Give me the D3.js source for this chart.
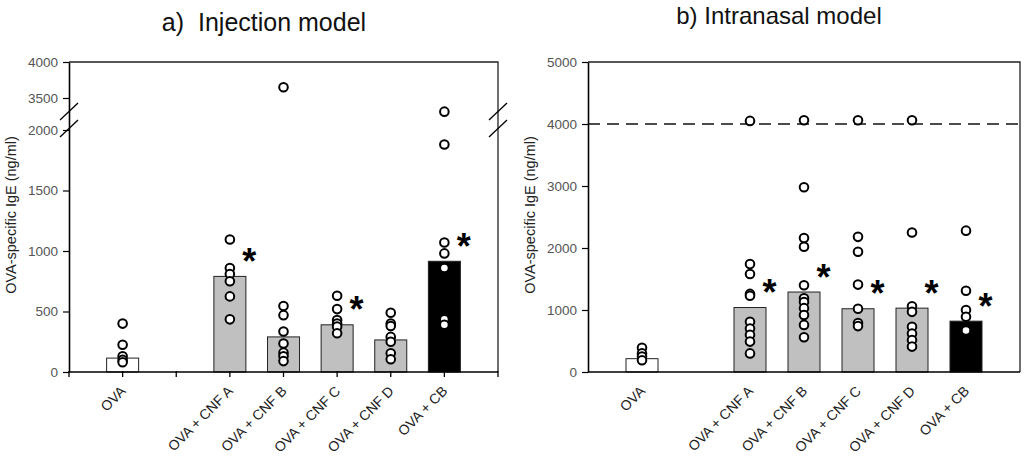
<!DOCTYPE html>
<html>
<head>
<meta charset="utf-8">
<script src="https://cdn.jsdelivr.net/npm/d3@7"></script>
<style>
  body { margin: 0; background: #fff; }
  svg { display: block; font-family: "Liberation Sans", Arial, sans-serif; }
</style>
</head>
<body>
<div id="chart"></div>
<script>
// groups, in plotting order ("" is the empty slot between OVA and the rest)
const groups = ["OVA", "", "OVA + CNF A", "OVA + CNF B", "OVA + CNF C", "OVA + CNF D", "OVA + CB"];
const categories = ["OVA", "OVA + CNF A", "OVA + CNF B", "OVA + CNF C", "OVA + CNF D", "OVA + CB"];

// a) injection model
const injMean = [115, 790, 290, 390, 265, 915];
const injDots = [
    [400, 225, 130, 100, 80],
    [1095, 860, 810, 750, 625, 435],
    [3650, 545, 470, 335, 235, 160, 130, 90],
    [630, 520, 430, 400, 375, 320],
    [490, 400, 380, 290, 250, 155, 105],
    [2860, 1880, 1070, 980, 860, 435, 390]
];
const injSig = [false, true, false, true, false, true];
const injTicks = [0, 500, 1000, 1500, 2000, 3500, 4000];

// b) intranasal model
const nasMean = [215, 1040, 1290, 1020, 1030, 820];
const nasDots = [
    [390, 300, 250, 190],
    [4050, 1740, 1580, 1260, 1230, 810, 700, 600, 490, 300],
    [4060, 2980, 2160, 2020, 1400, 1190, 1130, 1030, 920, 760, 560],
    [4060, 2180, 1940, 1410, 1020, 790, 740],
    [4060, 2250, 1060, 970, 730, 620, 515, 410],
    [2280, 1310, 1000, 890, 670]
];
const nasSig = [false, true, true, true, true, true];
const nasTicks = [0, 1000, 2000, 3000, 4000, 5000];
const nasLimit = 4000;

const yTitle = "OVA-specific IgE (ng/ml)";

var width = 1024;
var height = 456;
var fills = {"OVA": "#ffffff", "OVA + CB": "#000000"};
function barFill(c) { return fills[c] || "#c0c0c0"; }

var svg = d3.select('#chart')
    .append('svg')
    .attr('width', width)
    .attr('height', height);

function drawPanel(opt) {
    var g = svg.append('g');
    var x = d3.scalePoint()
        .domain(groups)
        .range([opt.left, opt.right])
        .padding(1);
    var y = d3.scaleLinear()
        .domain(opt.yDomain)
        .range(opt.yRange);
    var bw = 32;

    // frame (top + right)
    g.append('path')
        .attr('d', 'M' + opt.left + ',' + opt.top + 'H' + opt.right + 'V' + opt.bottom)
        .attr('fill', 'none')
        .attr('stroke', '#222')
        .attr('stroke-width', 1.3);

    if (opt.limit) {
        g.append('line')
            .attr('x1', opt.left).attr('x2', opt.right)
            .attr('y1', y(opt.limit)).attr('y2', y(opt.limit))
            .attr('stroke', '#111')
            .attr('stroke-width', 1.5)
            .attr('stroke-dasharray', '12,7');
    }

    var rows = categories.map(function (c, i) {
        return {cat: c, mean: opt.mean[i], dots: opt.dots[i], sig: opt.sig[i]};
    });

    // bars
    g.selectAll('rect.bar')
        .data(rows)
        .enter()
        .append('rect')
        .attr('class', 'bar')
        .attr('x', function (d) { return x(d.cat) - bw / 2; })
        .attr('y', function (d) { return y(d.mean); })
        .attr('width', bw)
        .attr('height', function (d) { return y(0) - y(d.mean); })
        .attr('fill', function (d) { return barFill(d.cat); })
        .attr('stroke', '#222')
        .attr('stroke-width', 1);

    // individual animals
    var pts = [];
    rows.forEach(function (d) {
        d.dots.forEach(function (v) { pts.push({cat: d.cat, v: v}); });
    });
    g.selectAll('circle')
        .data(pts)
        .enter()
        .append('circle')
        .attr('cx', function (d) { return x(d.cat); })
        .attr('cy', function (d) { return y(d.v); })
        .attr('r', 4.3)
        .attr('fill', '#fff')
        .attr('stroke', '#000')
        .attr('stroke-width', 2);

    // significance stars, centred a little above and right of the bar top
    g.selectAll('text.star')
        .data(rows.filter(function (d) { return d.sig; }))
        .enter()
        .append('text')
        .attr('class', 'star')
        .attr('x', function (d) { return x(d.cat) + 19.5; })
        .attr('y', function (d) { return y(d.mean); })
        .attr('text-anchor', 'middle')
        .attr('font-size', 36)
        .attr('font-weight', 'bold')
        .text('*')
        .each(function (d) {
            var bb = this.getBBox();
            var target = y(d.mean) - 15;
            d3.select(this).attr('y', y(d.mean) + (target - (bb.y + bb.height / 2)));
        });

    // y axis
    var yAxis = d3.axisLeft(y)
        .tickValues(opt.ticks)
        .tickFormat(d3.format('d'))
        .tickSizeInner(6)
        .tickSizeOuter(0)
        .tickPadding(5);
    var ya = g.append('g')
        .attr('transform', 'translate(' + opt.left + ',0)')
        .call(yAxis);
    ya.select('.domain').attr('stroke', '#000').attr('stroke-width', 1.6);
    ya.selectAll('.tick line').attr('stroke', '#000').attr('stroke-width', 1.2);
    ya.selectAll('.tick text')
        .attr('fill', '#555')
        .attr('font-size', 13.5)
        .attr('font-family', '"Liberation Sans", Arial, sans-serif');

    // x axis
    g.append('line')
        .attr('x1', opt.left).attr('x2', opt.right)
        .attr('y1', opt.bottom).attr('y2', opt.bottom)
        .attr('stroke', '#000')
        .attr('stroke-width', 1.6);
    if (opt.xTicks) {
        var tickPos = d3.range(groups.length + 2).map(function (i) {
            return opt.left + i * x.step();
        });
        g.selectAll('line.xtick')
            .data(tickPos)
            .enter()
            .append('line')
            .attr('class', 'xtick')
            .attr('x1', function (d) { return d; })
            .attr('x2', function (d) { return d; })
            .attr('y1', opt.bottom - 1)
            .attr('y2', opt.bottom + 5)
            .attr('stroke', '#000')
            .attr('stroke-width', 1.3);
    }
    g.selectAll('text.xlab')
        .data(categories)
        .enter()
        .append('text')
        .attr('class', 'xlab')
        .attr('transform', function (d) {
            return 'translate(' + (x(d) + 4) + ',' + (opt.bottom + 20) + ') rotate(-45)';
        })
        .attr('text-anchor', 'end')
        .attr('font-size', 14)
        .attr('fill', '#222')
        .text(function (d) { return d; });

    // axis title
    g.append('text')
        .attr('transform', 'translate(' + opt.yTitleX + ',' + opt.yTitleY + ') rotate(-90)')
        .attr('text-anchor', 'middle')
        .attr('font-size', 14.5)
        .attr('fill', '#222')
        .text(yTitle);

    // panel title
    g.append('text')
        .attr('x', opt.titleX)
        .attr('y', opt.titleY)
        .attr('text-anchor', 'middle')
        .attr('font-size', opt.titleSize)
        .attr('fill', '#111')
        .style('white-space', 'pre')
        .text(opt.title);

    return {x: x, y: y};
}

var a = drawPanel({
    left: 69, right: 498, top: 62, bottom: 372,
    yDomain: [0, 2000, 3500, 4000],
    yRange: [372, 130, 98, 62],
    ticks: injTicks,
    mean: injMean, dots: injDots, sig: injSig,
    xTicks: true,
    yTitleX: 16, yTitleY: 215,
    title: 'a)  Injection model', titleX: 264, titleY: 31, titleSize: 25
});

// axis break marks on both sides of panel a
[69, 498].forEach(function (bx) {
    [0, 17].forEach(function (off) {
        svg.append('line')
            .attr('x1', bx - 9).attr('y1', a.y(2000) - 10 + off)
            .attr('x2', bx + 9).attr('y2', a.y(2000) - 27 + off)
            .attr('stroke', '#000')
            .attr('stroke-width', 1.3);
    });
});

drawPanel({
    left: 588, right: 1020, top: 62, bottom: 372,
    yDomain: [0, 5000],
    yRange: [372, 62],
    ticks: nasTicks,
    mean: nasMean, dots: nasDots, sig: nasSig,
    limit: nasLimit,
    xTicks: false,
    yTitleX: 535, yTitleY: 215,
    title: 'b) Intranasal model', titleX: 779, titleY: 24, titleSize: 24
});
</script>
</body>
</html>
